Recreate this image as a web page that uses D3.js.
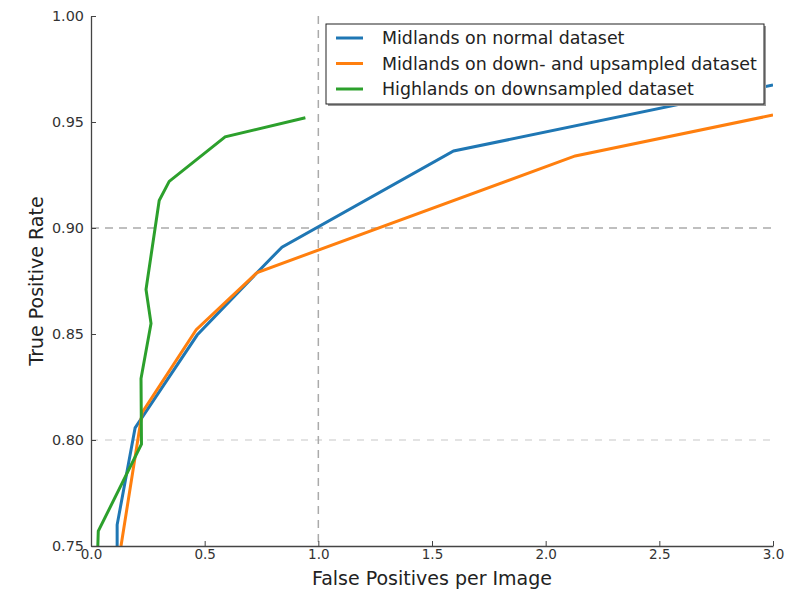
<!DOCTYPE html>
<html>
<head>
<meta charset="utf-8">
<script src="https://cdn.jsdelivr.net/npm/d3@7"></script>
<style>
  body { margin: 0; background: #fff; }
  svg { font-family: "DejaVu Sans", sans-serif; }
</style>
</head>
<body>
<svg width="800" height="592"></svg>
<script>
// series: [false positives per image, true positive rate]
var midlandsNormal = [
    [0.115, 0.750], [0.115, 0.760], [0.194, 0.8057], [0.467, 0.8495],
    [0.731, 0.879], [0.840, 0.891], [1.595, 0.9363], [3.0, 0.9675]
];
var midlandsResampled = [
    [0.132, 0.750], [0.225, 0.813], [0.463, 0.852], [0.731, 0.879],
    [2.130, 0.934], [3.0, 0.9533]
];
var highlandsDown = [
    [0.030, 0.750], [0.032, 0.757], [0.222, 0.798], [0.220, 0.829],
    [0.264, 0.855], [0.242, 0.871], [0.300, 0.913], [0.344, 0.922],
    [0.590, 0.943], [0.943, 0.952]
];
var seriesNames = [
    'Midlands on normal dataset',
    'Midlands on down- and upsampled dataset',
    'Highlands on downsampled dataset'
];
var seriesColors = ['#1f77b4', '#ff7f0e', '#2ca02c'];
var xTicks = [0, 0.5, 1.0, 1.5, 2.0, 2.5, 3.0];
var yTicks = [0.75, 0.80, 0.85, 0.90, 0.95, 1.00];

var svg = d3.select('svg');
var plotLeft = 91, plotRight = 773, plotTop = 16, plotBottom = 546;

var xScale = d3.scaleLinear().domain([0, 3]).range([plotLeft, plotRight]);
var yScale = d3.scaleLinear().domain([0.75, 1.0]).range([plotBottom, plotTop]);

// reference lines
svg.append('line')
    .attr('x1', xScale(0)).attr('x2', xScale(3))
    .attr('y1', yScale(0.80)).attr('y2', yScale(0.80))
    .attr('stroke', '#dadada').attr('stroke-width', 1.5)
    .attr('stroke-dasharray', '7,7');
svg.append('line')
    .attr('x1', xScale(0)).attr('x2', xScale(3))
    .attr('y1', yScale(0.90)).attr('y2', yScale(0.90))
    .attr('stroke', '#aaa').attr('stroke-width', 1.5)
    .attr('stroke-dasharray', '8,6');
svg.append('line')
    .attr('x1', xScale(1)).attr('x2', xScale(1))
    .attr('y1', yScale(1.0)).attr('y2', yScale(0.75))
    .attr('stroke', '#aaa').attr('stroke-width', 1.5)
    .attr('stroke-dasharray', '8,6');

svg.append('clipPath').attr('id', 'plot-clip')
    .append('rect')
    .attr('x', plotLeft).attr('y', plotTop)
    .attr('width', plotRight - plotLeft).attr('height', plotBottom - plotTop);

var line = d3.line()
    .x(function(d) { return xScale(d[0]); })
    .y(function(d) { return yScale(d[1]); });

[midlandsNormal, midlandsResampled, highlandsDown].forEach(function(data, i) {
    svg.append('path')
        .datum(data)
        .attr('d', line)
        .attr('clip-path', 'url(#plot-clip)')
        .attr('fill', 'none')
        .attr('stroke', seriesColors[i])
        .attr('stroke-width', 3)
        .attr('stroke-linejoin', 'miter');
});

// axes
var xAxis = svg.append('g')
    .attr('transform', 'translate(0,' + plotBottom + ')')
    .call(d3.axisBottom(xScale).tickValues(xTicks).tickFormat(d3.format('.1f'))
        .tickSizeInner(-5).tickSizeOuter(0).tickPadding(3));
var yAxis = svg.append('g')
    .attr('transform', 'translate(' + plotLeft + ',0)')
    .call(d3.axisLeft(yScale).tickValues(yTicks).tickFormat(d3.format('.2f'))
        .tickSizeInner(-5).tickSizeOuter(0).tickPadding(7));

[xAxis, yAxis].forEach(function(g) {
    g.select('.domain').attr('stroke', '#444').attr('stroke-width', 1.3);
    g.selectAll('.tick line').attr('stroke', '#444');
    g.selectAll('.tick text').attr('fill', '#333')
        .attr('font-family', '"DejaVu Sans", sans-serif');
});
xAxis.selectAll('.tick text').attr('font-size', 13.5);
yAxis.selectAll('.tick text').attr('font-size', 14.4);

svg.append('text')
    .attr('x', (plotLeft + plotRight) / 2).attr('y', 585)
    .attr('text-anchor', 'middle')
    .attr('font-size', 19).attr('fill', '#222')
    .text('False Positives per Image');

svg.append('text')
    .attr('transform', 'translate(43,' + (plotTop + plotBottom) / 2 + ') rotate(-90)')
    .attr('text-anchor', 'middle')
    .attr('font-size', 19).attr('fill', '#222')
    .text('True Positive Rate');

// legend
var legend = svg.append('g');
legend.append('rect')
    .attr('x', 328).attr('y', 26).attr('width', 438).attr('height', 80)
    .attr('fill', '#999');
legend.append('rect')
    .attr('x', 326).attr('y', 24).attr('width', 438).attr('height', 80)
    .attr('fill', '#fff').attr('stroke', '#222').attr('stroke-width', 1);

seriesNames.forEach(function(name, i) {
    var y = 38 + i * 25.5;
    legend.append('line')
        .attr('x1', 336).attr('x2', 363)
        .attr('y1', y).attr('y2', y)
        .attr('stroke', seriesColors[i]).attr('stroke-width', 3);
    legend.append('text')
        .attr('x', 382).attr('y', y + 6)
        .attr('font-size', 17.4).attr('fill', '#222')
        .text(name);
});
</script>
</body>
</html>
